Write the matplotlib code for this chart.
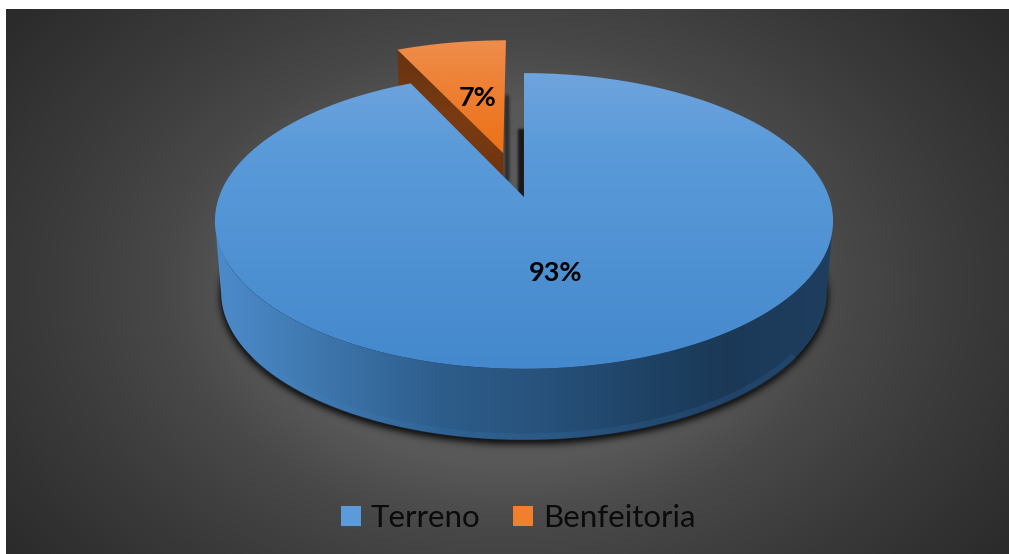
import numpy as np
import matplotlib
matplotlib.use("Agg")
import matplotlib.pyplot as plt
from matplotlib.patches import Patch, PathPatch, Rectangle
from matplotlib.path import Path

# Values
categories = ["Terreno", "Benfeitoria"]
shares = [93, 7]
label_xy = [(556, 273), (478, 98)]
legend_colors = ["#5b9bd9", "#f07f2e"]

W, H = 1009, 554
plt.rcParams["font.family"] = ["Lato", "DejaVu Sans"]

fig = plt.figure(figsize=(W / 100, H / 100), dpi=100, facecolor="white")
ax = fig.add_axes([0, 0, 1, 1])
ax.set_xlim(0, W)
ax.set_ylim(H, 0)
ax.axis("off")

# Perspective projection of the pie disc onto the canvas
CX, CY = 524.0, 197.0
SX, SY = 305.0, 144.0
PERSP = 0.162
DEPTH = 71.0
DEPTH_SHRINK = 0.02


def project(x, y, z=0.0):
    w = 1 + PERSP * np.asarray(y)
    return (CX + SX * (1 - DEPTH_SHRINK * z) * np.asarray(x) / w,
            CY - SY * np.asarray(y) / w + DEPTH * z)


def wedge_outline(a0, a1, off=(0.0, 0.0), z=0.0, n=200):
    """Closed wedge; angles are clockwise from north, in degrees."""
    t = np.radians(np.linspace(a0, a1, n))
    xs = np.r_[0, np.sin(t), 0] + off[0]
    ys = np.r_[0, np.cos(t), 0] + off[1]
    return np.column_stack(project(xs, ys, z))


def lerp_colors(stops, vals):
    pos = [s[0] for s in stops]
    rgb = np.array([matplotlib.colors.to_rgb(s[1]) for s in stops])
    return np.stack([np.interp(vals, pos, rgb[:, i]) for i in range(3)], axis=-1)


def gradient_fill(verts, stops, axis, zorder):
    """Fill a polygon with a vertical ('y') or horizontal ('x') colour ramp."""
    lo = np.floor(verts.min(axis=0)).astype(int)
    hi = np.ceil(verts.max(axis=0)).astype(int)
    if axis == "y":
        vals = np.arange(lo[1], hi[1] + 1)
        img = lerp_colors(stops, vals)[:, None, :]
    else:
        vals = np.arange(lo[0], hi[0] + 1)
        img = lerp_colors(stops, vals)[None, :, :]
    im = ax.imshow(img, extent=(lo[0], hi[0], hi[1], lo[1]), aspect="auto",
                   zorder=zorder, interpolation="bilinear")
    clip = PathPatch(Path(verts), transform=ax.transData, fc="none", ec="none")
    ax.add_patch(clip)
    im.set_clip_path(clip)
    return im


def blur(mask, sigma):
    r = int(3 * sigma)
    k = np.exp(-0.5 * (np.arange(-r, r + 1) / sigma) ** 2)
    k /= k.sum()
    out = np.apply_along_axis(lambda m: np.convolve(m, k, mode="same"), 0, mask)
    return np.apply_along_axis(lambda m: np.convolve(m, k, mode="same"), 1, out)


def black_overlay(alpha, zorder):
    ax.imshow(np.dstack([np.zeros((H, W, 3)), alpha]), extent=(0, W, H, 0),
              aspect="auto", zorder=zorder)


# Dark radial backdrop, leaving a white strip at the top and left
yy, xx = np.mgrid[0:H, 0:W]
dist = np.hypot((xx - 505) / 560, (yy - 285) / 400)
bg = np.interp(dist, [0, 0.45, 0.6, 0.8, 1.1, 1.4], [0.37, 0.345, 0.285, 0.235, 0.17, 0.16])
ax.imshow(np.dstack([bg, bg, bg]), extent=(0, W, H, 0), aspect="auto", zorder=0)
ax.add_patch(Rectangle((0, 0), W, 9, fc="white", ec="none", zorder=1))
ax.add_patch(Rectangle((0, 0), 6, H, fc="white", ec="none", zorder=1))

# Angles follow from the shares, clockwise from north
total = sum(shares)
sweep_a = 360 * shares[0] / total
mid_b = sweep_a + 180 * shares[1] / total
EXPLODE = 0.329
off_b = (EXPLODE * np.sin(np.radians(mid_b)), EXPLODE * np.cos(np.radians(mid_b)))

top_a = wedge_outline(0, sweep_a)
top_b = wedge_outline(sweep_a, 360, off_b)

# Body of the main slice: the front arc between the widest points of each rim
t = np.radians(np.linspace(99.3, 260.7, 400))
rim_top = np.column_stack(project(np.sin(t), np.cos(t), 0.0))
rim_low = np.column_stack(project(np.sin(t), np.cos(t), 1.0))
wall_a = np.vstack([rim_top, rim_low[::-1]])

# Soft drop shadow around the lower body; the notch is handled separately
pts = np.column_stack([xx.ravel() + 0.5, yy.ravel() + 0.5])
ring = np.linspace(0, 2 * np.pi, 400)
low_disc = np.column_stack(project(1.005 * np.sin(ring), 1.005 * np.cos(ring), 1.05))
shadow = blur(Path(low_disc).contains_points(pts).reshape(H, W).astype(float), 3.5)
shadow[yy < 200] = 0
black_overlay(0.88 * shadow, 2)

# Small slice: cut face, then top
apex_top, corner = top_b[0], top_b[1]
sweep_rad = np.radians(sweep_a)
low_x, low_y = project(np.array([off_b[0], off_b[0] + np.sin(sweep_rad)]),
                       np.array([off_b[1], off_b[1] + np.cos(sweep_rad)]), 1.0)
face_b = np.vstack([apex_top, corner, [low_x[1], low_y[1]], [low_x[0], low_y[0]]])
gradient_fill(face_b, [(50, "#66330f"), (120, "#7a3b12"), (180, "#6f340e")], "y", 3)
gradient_fill(top_b, [(42, "#ee8d4b"), (100, "#ee7d2e"), (155, "#ec7115")], "y", 4)

# Shadows cast into the notch between the slices
gap_l = blur(np.where((xx >= 505) & (xx < 509) & (yy > 94) & (yy < 182), 1.0, 0.0), 1.6)
gap_r = blur(np.where((xx >= 518) & (xx < 525) & (yy > 128) & (yy < 200), 1.0, 0.0), 1.2)
black_overlay(np.clip(0.6 * gap_l + 0.72 * gap_r, 0, 1), 3.5)

# Main slice, with a faint lighter band along the lower front edge
gradient_fill(wall_a,
              [(215, "#4c8bcb"), (300, "#417bb3"), (440, "#2d5d8b"), (540, "#28527c"),
               (650, "#1e4264"), (730, "#1b3857"), (835, "#1f3f60")], "x", 5)
front = np.radians(np.linspace(125, 235, 200))
band_x, band_y = project(np.sin(front), np.cos(front), 0.96)
ax.plot(band_x, band_y, color="#4a8fd6", lw=5, alpha=0.13, zorder=5.5, solid_capstyle="butt")
gradient_fill(top_a, [(73, "#6fa4dd"), (150, "#5a9ad9"), (369, "#4489cd")], "y", 6)

# Percentage labels
for share, (lx, ly) in zip(shares, label_xy):
    ax.text(lx, ly, f"{share}%", ha="center", va="center", fontsize=19.5,
            fontweight="bold", color="black", zorder=8)

# Legend
handles = [Patch(fc=c, ec="none") for c in legend_colors]
leg = ax.legend(handles, categories, loc="center", bbox_to_anchor=(518 / W, 1 - 518 / H),
                ncols=2, frameon=False, fontsize=22.5, labelcolor="#0b0b0b",
                handlelength=0.65, handleheight=0.65, handletextpad=0.3,
                columnspacing=1.05)
leg.set_zorder(8)

fig.savefig("out.png", dpi=100, facecolor="white")
